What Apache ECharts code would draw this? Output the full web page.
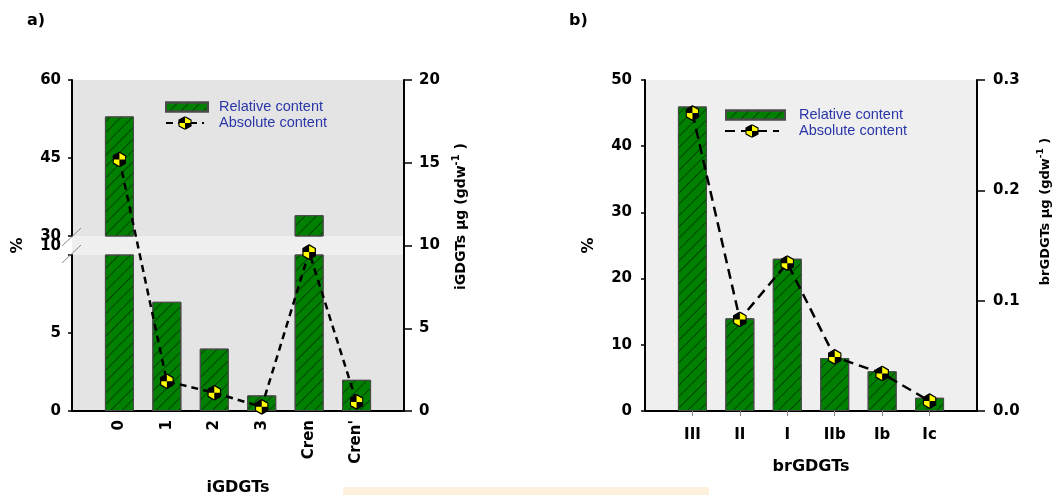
<!DOCTYPE html>
<html><head><meta charset="utf-8">
<script src="https://cdn.jsdelivr.net/npm/echarts@6/dist/echarts.min.js"></script>
<style>html,body{margin:0;padding:0;background:#fff}#c{width:1063px;height:495px}</style>
</head><body><div id="c"></div>
<script>
// ---------- Panel a : iGDGTs ----------
const iCats = ['0', '1', '2', '3', 'Cren', "Cren'"];
const iRelative = [53, 7, 4, 1, 34, 2];                 // % (left, broken axis)
const iAbsolute = [15.2, 1.8, 1.1, 0.25, 9.6, 0.55];    // µg gdw-1 (right axis)
const iLowerTicks = [0, 5, 10];
const iUpperTicks = [30, 45, 60];
const iRightTicks = [0, 5, 10, 15, 20];
// ---------- Panel b : brGDGTs ----------
const brCats = ['III', 'II', 'I', 'IIb', 'Ib', 'Ic'];
const brRelative = [46, 14, 23, 8, 6, 2];
const brAbsolute = [0.270, 0.083, 0.134, 0.049, 0.034, 0.009];
const brLeftTicks = [0, 10, 20, 30, 40, 50];
const brRightTicks = [0.0, 0.1, 0.2, 0.3];

const F = 'DejaVu Sans';
const padCats = c => [''].concat(c, [' ']);
const pad = v => ['-'].concat(v, ['-']);
const step = t => t[1] - t[0];

const hexSvg = "<svg xmlns='http://www.w3.org/2000/svg' width='28' height='32' viewBox='-14 -16 28 32'>" +
  "<polygon points='0,-14.5 12.5,-7.25 12.5,7.25 0,14.5 -12.5,7.25 -12.5,-7.25' fill='#ffff00' stroke='#000' stroke-width='2.6' stroke-linejoin='round'/>" +
  "<path d='M0,0 L0,-14.5 L-12.5,-7.25 L-12.5,0 Z M0,0 L12.5,0 L12.5,7.25 L0,14.5 Z' fill='#000'/></svg>";
const MARK = 'image://data:image/svg+xml;charset=utf-8,' + encodeURIComponent(hexSvg);

const hatch = { symbol: 'rect', symbolSize: 1, dashArrayX: [1, 0], dashArrayY: [1, 7], rotation: -Math.PI / 4, color: 'rgba(0,30,0,0.6)' };
const barStyle = { color: '#008000', borderColor: '#4a4a4a', borderWidth: 1, decal: hatch };

const tickFont = { fontFamily: F, fontWeight: 'bold', fontSize: 15, color: '#000' };
const nameFont = { fontFamily: F, fontWeight: 'bold', fontSize: 16, color: '#000' };
const blackLine = { show: true, lineStyle: { color: '#000', width: 2 } };
const noSplit = { show: false };

function gridBox(l, r, t, h, bg) {
  return { left: l, width: r - l, top: t, height: h, show: true, backgroundColor: bg, borderWidth: 0, containLabel: false, outerBoundsMode: 'none' };
}

const legendText = { color: '#2936a8', fontFamily: 'Liberation Sans', fontSize: 14.5, lineHeight: 15 };
const cleanName = n => n.replace(/ \([ab]\)$/, '');

function rightName(label, size, shift) {
  return {
    text: '{t|' + label + ' \u03bcg (gdw}{s|-1}{t| )}',
    style: {
      padding: [0, 0, 0, shift],
      rich: {
        t: { fontFamily: F, fontWeight: 'bold', fontSize: size, color: '#000' },
        s: { fontFamily: F, fontWeight: 'bold', fontSize: size - 4, color: '#000', padding: [0, 0, 10, 0] }
      }
    }
  };
}
const nA = rightName('iGDGTs', 14, 58), nB = rightName('brGDGTs', 13, 68);

const option = {
  animation: false,
  backgroundColor: '#fff',
  title: [
    { text: 'a)', left: 27, top: 13, padding: 0, textStyle: { fontFamily: F, fontWeight: 'bold', fontSize: 16, color: '#000' } },
    { text: 'b)', left: 569, top: 13, padding: 0, textStyle: { fontFamily: F, fontWeight: 'bold', fontSize: 16, color: '#000' } }
  ],
  legend: [
    { data: ['Relative content'], left: 165, top: 99.5, padding: 0, itemWidth: 42, itemHeight: 9, icon: 'rect', selectedMode: false, textStyle: Object.assign({ padding: [0, 0, 0, 6] }, legendText) },
    { data: ['Absolute content (a)'], left: 165, top: 115.5, padding: 0, itemWidth: 38, itemHeight: 17, selectedMode: false, formatter: cleanName, textStyle: Object.assign({ padding: [0, 0, 0, 10] }, legendText) },
    { data: ['Relative content'], left: 725, top: 107.5, padding: 0, itemWidth: 59, itemHeight: 9, icon: 'rect', selectedMode: false, textStyle: Object.assign({ padding: [0, 0, 0, 9] }, legendText) },
    { data: ['Absolute content (b)'], left: 724, top: 123.5, padding: 0, itemWidth: 54, itemHeight: 17, selectedMode: false, formatter: cleanName, textStyle: Object.assign({ padding: [0, 0, 0, 15] }, legendText) }
  ],
  grid: [
    gridBox(72, 404, 80, 331, '#efefef'),   // 0 panel a full (line, gap band)
    gridBox(72, 404, 80, 156, '#e4e4e4'),   // 1 panel a upper 30-60
    gridBox(72, 404, 255, 156, '#e4e4e4'),  // 2 panel a lower 0-10
    gridBox(645, 977, 80, 331, '#efefef')   // 3 panel b
  ],
  xAxis: [
    { gridIndex: 0, type: 'category', data: padCats(iCats), boundaryGap: false, axisLine: blackLine, axisTick: { show: false }, splitLine: noSplit,
      axisLabel: Object.assign({ rotate: 90, margin: 9, interval: 0 }, tickFont),
      name: 'iGDGTs', nameLocation: 'middle', nameGap: 69, nameTextStyle: nameFont },
    { gridIndex: 1, type: 'category', data: padCats(iCats), boundaryGap: false, show: false },
    { gridIndex: 2, type: 'category', data: padCats(iCats), boundaryGap: false, show: false },
    { gridIndex: 3, type: 'category', data: padCats(brCats), boundaryGap: false, axisLine: blackLine, splitLine: noSplit,
      axisTick: { show: true, length: 5, lineStyle: { color: '#888', width: 1 }, interval: (i) => i > 0 && i <= brCats.length },
      axisLabel: Object.assign({ margin: 17, interval: 0 }, tickFont),
      name: 'brGDGTs', nameLocation: 'middle', nameGap: 48, nameTextStyle: nameFont }
  ],
  yAxis: [
    { gridIndex: 0, type: 'value', position: 'right', min: iRightTicks[0], max: iRightTicks[iRightTicks.length - 1], interval: step(iRightTicks),
      axisLine: blackLine, axisTick: { show: true, length: 8, lineStyle: { color: '#000', width: 1.5 } }, splitLine: noSplit,
      axisLabel: Object.assign({ margin: 15 }, tickFont),
      name: nA.text, nameLocation: 'middle', nameGap: 47, nameTextStyle: nA.style },
    { gridIndex: 1, type: 'value', position: 'left', min: iUpperTicks[0], max: iUpperTicks[iUpperTicks.length - 1], interval: step(iUpperTicks),
      axisLine: blackLine, axisTick: { show: true, length: 4, lineStyle: { color: '#000', width: 1.5 } }, splitLine: noSplit,
      axisLabel: Object.assign({ margin: 11 }, tickFont) },
    { gridIndex: 2, type: 'value', position: 'left', min: iLowerTicks[0], max: iLowerTicks[iLowerTicks.length - 1], interval: step(iLowerTicks),
      axisLine: blackLine, axisTick: { show: true, length: 4, lineStyle: { color: '#000', width: 1.5 } }, splitLine: noSplit,
      axisLabel: Object.assign({ margin: 11, formatter: v => v === iLowerTicks[iLowerTicks.length - 1] ? '{up|' + v + '}' : String(v),
        rich: { up: Object.assign({ padding: [0, 0, 18, 0] }, tickFont) } }, tickFont) },
    { gridIndex: 0, type: 'value', position: 'left', min: 0, max: 1, axisLine: { show: false }, axisTick: { show: false }, axisLabel: { show: false }, splitLine: noSplit,
      name: '%', nameLocation: 'middle', nameGap: 46, nameTextStyle: nameFont },
    { gridIndex: 3, type: 'value', position: 'left', min: brLeftTicks[0], max: brLeftTicks[brLeftTicks.length - 1], interval: step(brLeftTicks),
      axisLine: blackLine, axisTick: { show: true, length: 4, lineStyle: { color: '#000', width: 1.5 } }, splitLine: noSplit,
      axisLabel: Object.assign({ margin: 13 }, tickFont),
      name: '%', nameLocation: 'middle', nameGap: 48, nameTextStyle: nameFont },
    { gridIndex: 3, type: 'value', position: 'right', min: brRightTicks[0], max: brRightTicks[brRightTicks.length - 1], interval: step(brRightTicks),
      axisLine: blackLine, axisTick: { show: true, length: 8, lineStyle: { color: '#000', width: 1.5 } }, splitLine: noSplit,
      axisLabel: Object.assign({ margin: 16, formatter: v => v.toFixed(1) }, tickFont),
      name: nB.text, nameLocation: 'middle', nameGap: 59, nameTextStyle: nB.style }
  ],
  series: [
    { name: 'Relative content', type: 'bar', xAxisIndex: 1, yAxisIndex: 1, data: pad(iRelative), barWidth: 29, clip: true, itemStyle: barStyle },
    { name: 'Relative content', type: 'bar', xAxisIndex: 2, yAxisIndex: 2, data: pad(iRelative), barWidth: 29, clip: true, itemStyle: barStyle },
    { name: 'Absolute content (a)', type: 'line', xAxisIndex: 0, yAxisIndex: 0, data: pad(iAbsolute), z: 5,
      symbol: MARK, symbolSize: [14, 16], lineStyle: { color: '#000', width: 2.5, type: [7, 5] }, itemStyle: { color: '#000' } },
    { name: 'Relative content', type: 'bar', xAxisIndex: 3, yAxisIndex: 4, data: pad(brRelative), barWidth: 29, itemStyle: barStyle },
    { name: 'Absolute content (b)', type: 'line', xAxisIndex: 3, yAxisIndex: 5, data: pad(brAbsolute), z: 5,
      symbol: MARK, symbolSize: [14, 16], lineStyle: { color: '#000', width: 2.5, type: [10, 6] }, itemStyle: { color: '#000' } }
  ],
  graphic: [
    { type: 'line', shape: { x1: 62, y1: 246, x2: 81, y2: 228 }, style: { stroke: '#8a8a8a', lineWidth: 1 }, z: 10 },
    { type: 'line', shape: { x1: 62, y1: 263, x2: 81, y2: 245 }, style: { stroke: '#8a8a8a', lineWidth: 1 }, z: 10 },
    { type: 'rect', shape: { x: 343, y: 487, width: 366, height: 8 }, style: { fill: '#fdf1de' }, z: 1 }
  ]
};

const chart = echarts.init(document.getElementById('c'), null, { renderer: 'canvas' });
chart.setOption(option);
</script>
</body></html>
